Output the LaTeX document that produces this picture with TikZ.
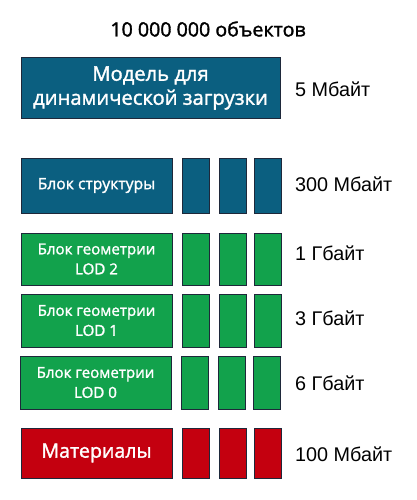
\documentclass[tikz,border=0pt]{standalone}
\usepackage{fontspec}
\setmainfont{Liberation Sans}
\newfontfamily\boxfont[FakeBold=1.6]{Open Sans}
\definecolor{cblue}{RGB}{11,95,128}
\definecolor{cgreen}{RGB}{18,162,76}
\definecolor{cred}{RGB}{196,0,15}
\definecolor{cedge}{RGB}{30,40,58}
\begin{document}
\begin{tikzpicture}[x=1pt,y=-1pt,
  box/.style={draw=cedge,line width=1pt,inner sep=0pt,align=center,text=white},
  bigbox/.style={box,minimum width=151pt},
  smallbox/.style={box,minimum width=27pt},
  sizelabel/.style={anchor=west,inner sep=0pt,font=\fontsize{19.8}{22}\selectfont}]
\useasboundingbox (0,0) rectangle (417,500);
\fill[white] (0,0) rectangle (417,500);
\node[inner sep=0pt,font=\boxfont\fontsize{19.6}{22}\selectfont] (title) at (208,29) {10 000 000 объектов};
% top
\node[box,fill=cblue,minimum width=259pt,minimum height=61pt,font=\boxfont\fontsize{20.2}{24}\selectfont] (model) at (150.5,88) {Модель для\\динамической загрузки};
\node[sizelabel] (l0) at (295,89) {5 Мбайт};
% structure
\node[bigbox,fill=cblue,minimum height=55pt,font=\boxfont\fontsize{15.7}{18}\selectfont] (s0) at (96.5,185.5) {Блок структуры};
\node[smallbox,fill=cblue,minimum height=55pt] (s1) at (195.5,185.5) {};
\node[smallbox,fill=cblue,minimum height=55pt] (s2) at (232.5,185.5) {};
\node[smallbox,fill=cblue,minimum height=55pt] (s3) at (267.5,185.5) {};
\node[sizelabel] (l1) at (295,184) {300 Мбайт};
% LOD2
\node[bigbox,fill=cgreen,minimum height=52pt,font=\boxfont\fontsize{15.1}{20}\selectfont] (g20) at (96.5,259) {Блок геометрии\\LOD 2};
\node[smallbox,fill=cgreen,minimum height=52pt] (g21) at (195.5,259) {};
\node[smallbox,fill=cgreen,minimum height=52pt] (g22) at (232.5,259) {};
\node[smallbox,fill=cgreen,minimum height=52pt] (g23) at (267.5,259) {};
\node[sizelabel] (l2) at (295,253) {1 Гбайт};
% LOD1
\node[bigbox,fill=cgreen,minimum height=53pt,font=\boxfont\fontsize{15.1}{20}\selectfont] (g10) at (96.5,320.5) {Блок геометрии\\LOD 1};
\node[smallbox,fill=cgreen,minimum height=53pt] (g11) at (195.5,320.5) {};
\node[smallbox,fill=cgreen,minimum height=53pt] (g12) at (232.5,320.5) {};
\node[smallbox,fill=cgreen,minimum height=53pt] (g13) at (267.5,320.5) {};
\node[sizelabel] (l3) at (295,318) {3 Гбайт};
% LOD0
\node[bigbox,fill=cgreen,minimum height=53pt,font=\boxfont\fontsize{15.1}{20}\selectfont] (g00) at (95.5,382.5) {Блок геометрии\\LOD 0};
\node[smallbox,fill=cgreen,minimum height=53pt] (g01) at (194.5,382.5) {};
\node[smallbox,fill=cgreen,minimum height=53pt] (g02) at (231.5,382.5) {};
\node[smallbox,fill=cgreen,minimum height=53pt] (g03) at (266.5,382.5) {};
\node[sizelabel] (l4) at (295,383) {6 Гбайт};
% materials
\node[bigbox,fill=cred,minimum height=50pt,font=\boxfont\fontsize{19.6}{22}\selectfont] (m0) at (96.5,453) {Материалы};
\node[smallbox,fill=cred,minimum height=50pt] (m1) at (195.5,453) {};
\node[smallbox,fill=cred,minimum height=50pt] (m2) at (232.5,453) {};
\node[smallbox,fill=cred,minimum height=50pt] (m3) at (267.5,453) {};
\node[sizelabel] (l5) at (295,454) {100 Мбайт};
\end{tikzpicture}
\end{document}
